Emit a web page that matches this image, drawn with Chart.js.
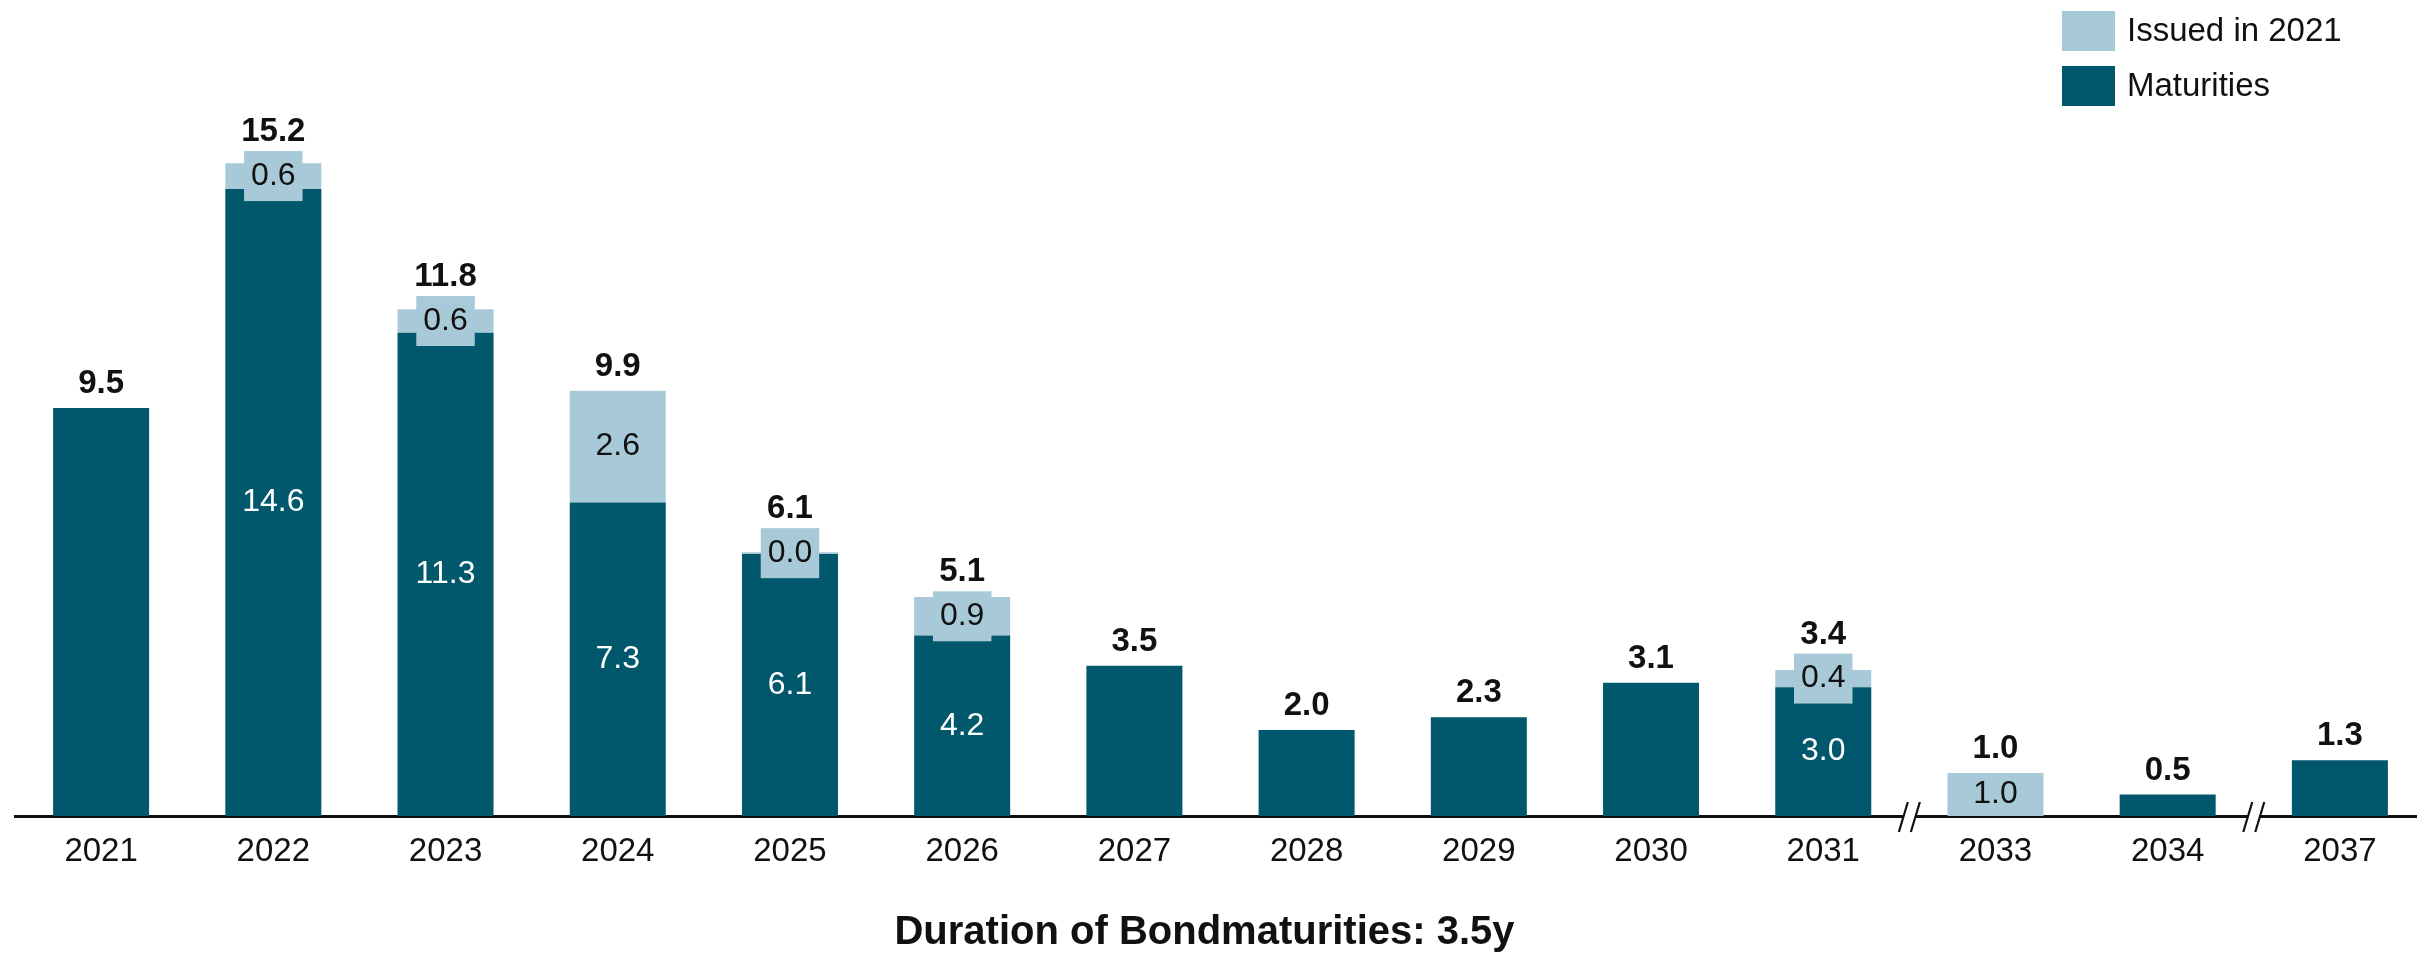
<!DOCTYPE html>
<html>
<head>
<meta charset="utf-8">
<title>Bond maturities</title>
<script src="https://cdn.jsdelivr.net/npm/chart.js@4.4.1/dist/chart.umd.min.js"></script>
<style>
    html, body { margin: 0; padding: 0; background: #fff; overflow: hidden; }
    /* a little wider than the window: the last category runs past the right edge */
    #wrap { width: 2426px; height: 953px; position: relative; }
</style>
</head>
<body>
<div id="wrap"><canvas id="maturityChart"></canvas></div>
<script>
// Chart data
const years = ['2021', '2022', '2023', '2024', '2025', '2026', '2027', '2028', '2029', '2030', '2031', '2033', '2034', '2037'];
const maturities = [9.5, 14.6, 11.25, 7.3, 6.1, 4.2, 3.5, 2.0, 2.3, 3.1, 3.0, 0, 0.5, 1.3];
const issued2021 = [0, 0.6, 0.55, 2.6, 0.04, 0.9, 0, 0, 0, 0, 0.4, 1.0, 0, 0];
// axis breaks drawn after these categories
const breaksAfter = ['2031', '2034'];
const chartTitle = 'Duration of Bondmaturities: 3.5y';

const FONT = "'Liberation Sans', Arial, sans-serif";
const DARK = '#01576b';
const LIGHT = '#a8cad8';
const INK = '#111111';
const VIEW_W = 2417;

Chart.defaults.font.family = FONT;

// value labels inside and above the stacks
const stackLabels = {
    id: 'stackLabels',
    afterDatasetsDraw(chart) {
        const ctx = chart.ctx;
        const xs = chart.scales.x;
        const ys = chart.scales.y;
        const base = ys.getPixelForValue(0);
        ctx.save();
        ctx.textAlign = 'center';
        years.forEach(function(yr, i) {
            const cx = xs.getPixelForValue(i);
            const mat = maturities[i];
            const iss = issued2021[i];
            const top = ys.getPixelForValue(mat + iss);
            const matTop = ys.getPixelForValue(mat);
            let labelBottom = top - 15;

            if (iss > 0) {
                const txt = iss.toFixed(1);
                const cy = (top + matTop) / 2;
                ctx.font = '32px ' + FONT;
                if (mat > 0) {
                    const w = ctx.measureText(txt).width + 14;
                    const h = 50;
                    ctx.fillStyle = LIGHT;
                    ctx.fillRect(cx - w / 2, cy - h / 2, w, h);
                    if (cy - h / 2 < top) labelBottom = cy - h / 2 - 10;
                    // white label in the dark part
                    ctx.fillStyle = '#ffffff';
                    ctx.textBaseline = 'middle';
                    ctx.fillText(mat.toFixed(1), cx, (matTop + base) / 2);
                }
                ctx.fillStyle = INK;
                ctx.textBaseline = 'middle';
                ctx.fillText(txt, cx, cy);
            }

            ctx.font = 'bold 33px ' + FONT;
            ctx.fillStyle = INK;
            ctx.textBaseline = 'alphabetic';
            ctx.fillText((mat + iss).toFixed(1), cx, labelBottom);
        });
        ctx.restore();
    },
    afterDraw(chart) {
        const ctx = chart.ctx;
        const xs = chart.scales.x;
        const axisY = chart.chartArea.bottom;
        ctx.save();

        // axis breaks
        breaksAfter.forEach(function(yr) {
            const i = years.indexOf(yr);
            const bx = (xs.getPixelForValue(i) + xs.getPixelForValue(i + 1)) / 2;
            ctx.fillStyle = '#ffffff';
            ctx.fillRect(bx - 6, axisY - 2, 12, 4);
            ctx.strokeStyle = INK;
            ctx.lineWidth = 2.2;
            [-6, 6].forEach(function(d) {
                ctx.beginPath();
                ctx.moveTo(bx + d - 4.5, axisY + 16);
                ctx.lineTo(bx + d + 4.5, axisY - 14);
                ctx.stroke();
            });
        });

        // legend, top right, stacked vertically
        const items = chart.data.datasets.slice().reverse();
        const lx = VIEW_W - 355;
        ctx.font = '33px ' + FONT;
        ctx.textAlign = 'left';
        ctx.textBaseline = 'middle';
        items.forEach(function(ds, k) {
            const ty = 11 + k * 55;
            ctx.fillStyle = ds.backgroundColor;
            ctx.fillRect(lx, ty, 53, 40);
            ctx.fillStyle = INK;
            ctx.fillText(ds.label, lx + 65, ty + 21);
        });

        // bottom title
        ctx.font = 'bold 40px ' + FONT;
        ctx.textAlign = 'center';
        ctx.fillText(chartTitle, VIEW_W / 2 - 4, 933);
        ctx.restore();
    }
};

const ctx = document.getElementById('maturityChart').getContext('2d');
new Chart(ctx, {
    type: 'bar',
    data: {
        labels: years,
        datasets: [{
            label: 'Maturities',
            data: maturities,
            backgroundColor: DARK,
            barPercentage: 0.5575,
            categoryPercentage: 1
        }, {
            label: 'Issued in 2021',
            data: issued2021,
            backgroundColor: LIGHT,
            barPercentage: 0.5575,
            categoryPercentage: 1
        }]
    },
    options: {
        responsive: true,
        maintainAspectRatio: false,
        animation: false,
        layout: {
            padding: { left: 15, right: 0, top: 0, bottom: 0 }
        },
        scales: {
            x: {
                stacked: true,
                grid: { display: false, drawTicks: false },
                border: { display: true, color: INK, width: 3 },
                ticks: {
                    color: INK,
                    padding: 16,
                    font: { size: 33 }
                },
                afterFit: function(scale) {
                    scale.height = 137;
                }
            },
            y: {
                stacked: true,
                display: false,
                min: 0,
                max: 19
            }
        },
        plugins: {
            legend: { display: false },
            tooltip: { enabled: false }
        }
    },
    plugins: [stackLabels]
});
</script>
</body>
</html>
